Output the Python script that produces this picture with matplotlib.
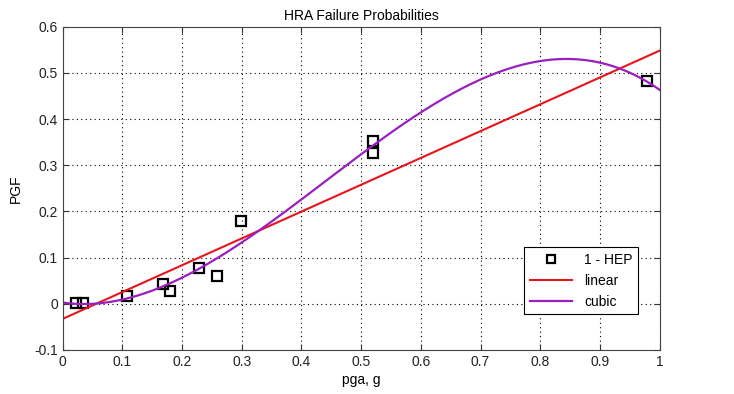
import matplotlib
matplotlib.use('Agg')
import matplotlib.pyplot as plt
import numpy as np

plt.rcParams['font.family'] = ['Liberation Sans', 'DejaVu Sans']

# 1 - HEP points
pga = [0.022, 0.034, 0.107, 0.168, 0.179, 0.228, 0.258, 0.299, 0.520, 0.520, 0.978]
pgf = [0.001, 0.001, 0.016, 0.042, 0.028, 0.077, 0.060, 0.180, 0.352, 0.327, 0.482]

xs = np.linspace(0, 1, 200)
lin = np.polyfit(pga, pgf, 1)
cub = np.polyfit(pga, pgf, 3)

fig = plt.figure(figsize=(7.34, 3.94), dpi=100)
ax = fig.add_axes([0.0854, 0.1117, 0.8134, 0.8205])

ax.plot(pga, pgf, 's', mfc='none', mec='k', ms=7.5, mew=1.6, label='1 - HEP')
ax.plot(xs, np.polyval(lin, xs), '-', c='#e8141c', lw=1.5, label='linear')
ax.plot(xs, np.polyval(cub, xs), '-', c='#9a1fbf', lw=1.6, label='cubic')

ax.set_xlim(0, 1)
ax.set_ylim(-0.1, 0.6)
ax.set_xticks(np.arange(0, 1.01, 0.1))
ax.set_xticklabels(['0', '0.1', '0.2', '0.3', '0.4', '0.5', '0.6', '0.7', '0.8', '0.9', '1'])
ax.set_yticks(np.arange(-0.1, 0.61, 0.1))
ax.set_yticklabels(['-0.1', '0', '0.1', '0.2', '0.3', '0.4', '0.5', '0.6'])
ax.tick_params(direction='in', top=True, right=True, labelsize=10, length=4, colors='#333333', labelcolor='#222222')
for s in ax.spines.values():
    s.set_color('#444444')
ax.grid(True, ls=(0, (1, 3)), c='k', lw=0.8)

ax.set_title('HRA Failure Probabilities', fontsize=10, pad=5)
ax.set_xlabel('pga, g', fontsize=10, labelpad=3)
ax.set_ylabel('PGF', fontsize=10, labelpad=8)

leg = ax.legend(loc='lower right', bbox_to_anchor=(0.964, 0.110), fontsize=10,
                fancybox=False, edgecolor='k', framealpha=1, borderaxespad=0,
                handlelength=3.0, handletextpad=0.9, labelspacing=0.5, borderpad=0.4,
                markerscale=0.8)
leg.get_frame().set_linewidth(0.8)

fig.savefig('out.png', dpi=100)
